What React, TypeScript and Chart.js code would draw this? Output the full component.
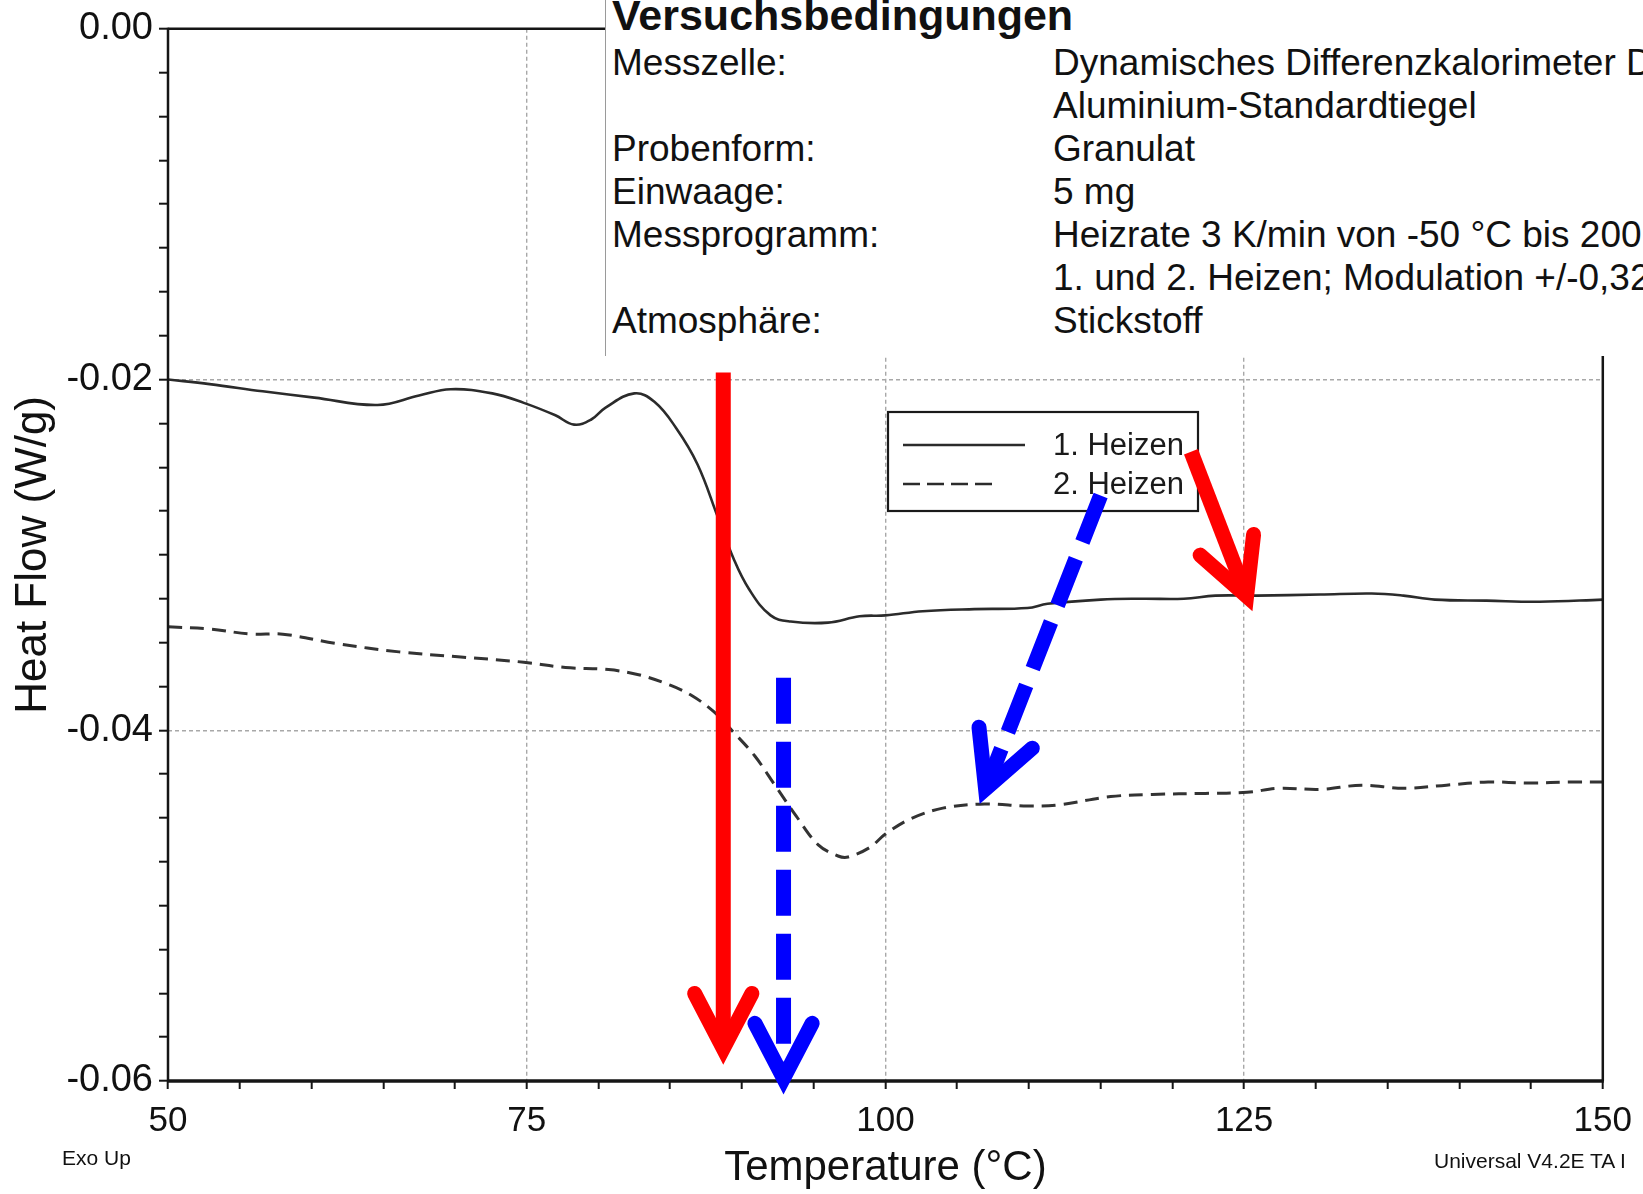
import React, { useEffect, useRef } from "react";
import { Chart, registerables } from "chart.js";

Chart.register(...registerables);

// ---------- data ----------
const heat1Temp = [50, 52.9, 56.6, 60.2, 64.6, 67.5, 69.7, 72.6, 74.8, 77.0, 78.3, 79.5, 80.5, 82.5, 83.9, 85.4, 86.9, 88.3, 89.4, 90.5, 92.0, 93.4, 96.0, 98.2, 100, 102.6, 106.2, 109.9, 111.3, 115.0, 117.9, 120.8, 123.0, 125.9, 130.3, 133.9, 136.1, 138.3, 141.9, 145.6, 150];
const heat1Flow = [-0.02, -0.02026, -0.02067, -0.02103, -0.02145, -0.02091, -0.02055, -0.02079, -0.02133, -0.02204, -0.02257, -0.02228, -0.0216, -0.02079, -0.02127, -0.02275, -0.02483, -0.0278, -0.03018, -0.03196, -0.03345, -0.0338, -0.03386, -0.0335, -0.03345, -0.03321, -0.03309, -0.03303, -0.03279, -0.03255, -0.0325, -0.0325, -0.03232, -0.03232, -0.03226, -0.0322, -0.03232, -0.03255, -0.03261, -0.03267, -0.03255];

const heat2Temp = [50, 52.9, 55.8, 58.0, 61.7, 66.1, 70.4, 74.8, 77.7, 80.7, 82.8, 85.0, 86.5, 88.0, 89.4, 90.9, 92.3, 93.8, 95.3, 96.7, 97.4, 98.9, 100, 101.8, 104.0, 106.9, 109.9, 112.0, 115.7, 118.6, 122.3, 125.2, 127.4, 130.3, 133.2, 136.1, 139.1, 142.0, 144.9, 147.8, 150];
const heat2Flow = [-0.0341, -0.03422, -0.03452, -0.03452, -0.03505, -0.03553, -0.03582, -0.03612, -0.03642, -0.03654, -0.03683, -0.03743, -0.03802, -0.03891, -0.0401, -0.04147, -0.04313, -0.04491, -0.04652, -0.04717, -0.04723, -0.04669, -0.04592, -0.04503, -0.04444, -0.0442, -0.04432, -0.04426, -0.04378, -0.04366, -0.0436, -0.04354, -0.04331, -0.04337, -0.04313, -0.04331, -0.04313, -0.04295, -0.04301, -0.04295, -0.04295];

const seriesLabels = ["1. Heizen", "2. Heizen"];
const xMajorTicks = [50, 75, 100, 125, 150];
const yMajorTicks = [0, -0.02, -0.04, -0.06];
const xTitle = "Temperature (°C)";
const yTitle = "Heat Flow (W/g)";

// annotation arrows (data coordinates: temperature, heat flow)
const arrowFromT = [88.7, 92.9, 115.0, 121.3];
const arrowFromF = [-0.0196, -0.037, -0.02661, -0.02412];
const arrowToT = [88.7, 92.9, 106.6, 125.55];
const arrowToF = [-0.059, -0.0607, -0.04414, -0.03315];

const conditionsTitle = "Versuchsbedingungen";
const conditionLabels = ["Messzelle:", "", "Probenform:", "Einwaage:", "Messprogramm:", "", "Atmosphäre:"];
const conditionValues = [
  "Dynamisches Differenzkalorimeter D",
  "Aluminium-Standardtiegel",
  "Granulat",
  "5 mg",
  "Heizrate 3 K/min von -50 °C bis 200",
  "1. und 2. Heizen; Modulation +/-0,32",
  "Stickstoff",
];
const footLeft = "Exo Up";
const footRight = "Universal V4.2E TA I";

// ---------- styles ----------
const FONT = '"Liberation Sans", Arial, Helvetica, sans-serif';
const ARROW_STYLES = [
  { color: "#ff0000", dash: [] as number[] },
  { color: "#0000ff", dash: [46, 18] },
  { color: "#0000ff", dash: [50, 18] },
  { color: "#ff0000", dash: [] as number[] },
];
const LINE_COLOR = "#2b2b2b";
const DASH2 = [14, 8];

const near = (v: number, list: number[]) => list.some((m) => Math.abs(m - v) < 1e-7);

const overlayPlugin = {
  id: "overlay",
  afterDatasetsDraw(chart: any) {
    const { ctx, chartArea } = chart;
    const { left, right, top, bottom } = chartArea;
    ctx.save();
    // frame
    ctx.strokeStyle = "#151515";
    ctx.lineWidth = 2.5;
    ctx.setLineDash([]);
    ctx.beginPath();
    ctx.moveTo(left, top);
    ctx.lineTo(right, top);
    ctx.lineTo(right, bottom);
    ctx.stroke();
    ctx.beginPath();
    ctx.moveTo(left, top - 1);
    ctx.lineTo(left, bottom);
    ctx.stroke();
    ctx.lineWidth = 3.5;
    ctx.beginPath();
    ctx.moveTo(left - 1, bottom);
    ctx.lineTo(right + 1, bottom);
    ctx.stroke();

    // legend
    const bx = 888, by = 412, bw = 310, bh = 99;
    ctx.fillStyle = "#fff";
    ctx.fillRect(bx, by, bw, bh);
    ctx.strokeStyle = "#1a1a1a";
    ctx.lineWidth = 2.2;
    ctx.strokeRect(bx, by, bw, bh);
    ctx.strokeStyle = LINE_COLOR;
    ctx.lineWidth = 2.6;
    ctx.beginPath();
    ctx.moveTo(903, 445);
    ctx.lineTo(1025, 445);
    ctx.stroke();
    ctx.setLineDash([17, 7]);
    ctx.beginPath();
    ctx.moveTo(903, 484);
    ctx.lineTo(995, 484);
    ctx.stroke();
    ctx.setLineDash([]);
    ctx.fillStyle = "#1a1a1a";
    ctx.font = `31px ${FONT}`;
    ctx.textBaseline = "middle";
    ctx.textAlign = "left";
    ctx.fillText(seriesLabels[0], 1053, 446);
    ctx.fillText(seriesLabels[1], 1053, 485);
    ctx.restore();
  },
  afterDraw(chart: any) {
    const { ctx } = chart;
    const xs = chart.scales.x;
    const ys = chart.scales.y;
    ctx.save();
    for (let i = 0; i < arrowFromT.length; i++) {
      const st = ARROW_STYLES[i];
      const x1 = xs.getPixelForValue(arrowFromT[i]);
      const y1 = ys.getPixelForValue(arrowFromF[i]);
      const x2 = xs.getPixelForValue(arrowToT[i]);
      const y2 = ys.getPixelForValue(arrowToF[i]);
      const ang = Math.atan2(y2 - y1, x2 - x1);
      const c = Math.cos(ang), s = Math.sin(ang);
      const w = 15;
      const vx = x2 - c * 15, vy = y2 - s * 15;
      ctx.strokeStyle = st.color;
      ctx.lineWidth = w;
      ctx.lineCap = "butt";
      ctx.setLineDash(st.dash);
      ctx.beginPath();
      ctx.moveTo(x1, y1);
      ctx.lineTo(vx - c * 6, vy - s * 6);
      ctx.stroke();
      ctx.setLineDash([]);
      ctx.lineCap = "round";
      ctx.lineJoin = "miter";
      ctx.miterLimit = 10;
      const L = 62, a = 0.48;
      ctx.beginPath();
      ctx.moveTo(vx - L * Math.cos(ang - a), vy - L * Math.sin(ang - a));
      ctx.lineTo(vx, vy);
      ctx.lineTo(vx - L * Math.cos(ang + a), vy - L * Math.sin(ang + a));
      ctx.stroke();
    }
    ctx.restore();
  },
};

export default function App() {
  const canvasRef = useRef<HTMLCanvasElement>(null);

  useEffect(() => {
    const canvas = canvasRef.current;
    if (!canvas) return;
    Chart.defaults.font.family = FONT;
    const chart = new Chart(canvas, {
      type: "line",
      data: {
        datasets: [
          {
            label: seriesLabels[0],
            data: heat1Temp.map((t, i) => ({ x: t, y: heat1Flow[i] })),
            borderColor: LINE_COLOR,
            borderWidth: 2.6,
            pointRadius: 0,
            tension: 0.4,
            fill: false,
          },
          {
            label: seriesLabels[1],
            data: heat2Temp.map((t, i) => ({ x: t, y: heat2Flow[i] })),
            borderColor: "#333",
            borderWidth: 3,
            borderDash: DASH2,
            pointRadius: 0,
            tension: 0.35,
            fill: false,
          },
        ],
      },
      options: {
        animation: false,
        responsive: false,
        devicePixelRatio: 1,
        layout: { padding: { top: 23, right: 40, left: 0, bottom: 0 } },
        plugins: {
          legend: { display: false },
          tooltip: { enabled: false },
        },
        scales: {
          x: {
            type: "linear",
            min: 50,
            max: 150,
            afterFit: (s: any) => {
              s.height = 113;
            },
            ticks: {
              stepSize: 5,
              autoSkip: false,
              maxRotation: 0,
              padding: 11,
              color: "#111",
              font: { size: 35, family: FONT },
              callback: (v: any) => (near(Number(v), xMajorTicks) ? String(v) : ""),
            },
            grid: {
              drawOnChartArea: true,
              tickLength: 8,
              lineWidth: 1.4,
              tickWidth: 2,
              tickColor: "#151515",
              color: (c: any) =>
                c.tick && near(c.tick.value, xMajorTicks) && c.tick.value > 50 && c.tick.value < 150
                  ? "#a8a8a8"
                  : "rgba(0,0,0,0)",
            },
            border: { display: false, dash: [4, 3] },
            title: {
              display: true,
              text: xTitle,
              color: "#111",
              font: { size: 42, family: FONT },
              padding: { top: 0, bottom: 0 },
            },
          },
          y: {
            type: "linear",
            min: -0.06,
            max: 0,
            afterFit: (s: any) => {
              s.width = 168;
            },
            ticks: {
              stepSize: 0.0025,
              autoSkip: false,
              padding: 6,
              color: "#111",
              font: { size: 38, family: FONT },
              callback: (v: any) => (near(Number(v), yMajorTicks) ? Number(v).toFixed(2).replace("-0.00", "0.00") : ""),
            },
            grid: {
              drawOnChartArea: true,
              tickLength: 9,
              lineWidth: 1.4,
              tickWidth: 2,
              tickColor: "#151515",
              color: (c: any) =>
                c.tick && near(c.tick.value, yMajorTicks) && c.tick.value < -0.001 && c.tick.value > -0.059
                  ? "#a8a8a8"
                  : "rgba(0,0,0,0)",
            },
            border: { display: false, dash: [4, 3] },
            title: {
              display: true,
              text: yTitle,
              color: "#111",
              font: { size: 44, family: FONT },
              padding: { top: 7, bottom: 0 },
            },
          },
        },
      },
      plugins: [overlayPlugin],
    } as any);
    return () => chart.destroy();
  }, []);

  const rowTop = (i: number) => 41 + 43 * i;

  return (
    <div
      style={{
        position: "absolute",
        left: 0,
        top: 0,
        width: 1643,
        height: 1194,
        overflow: "hidden",
        background: "#fff",
        fontFamily: FONT,
        color: "#111",
      }}
    >
      <canvas
        ref={canvasRef}
        width={1643}
        height={1194}
        style={{ position: "absolute", left: 0, top: 0, width: 1643, height: 1194 }}
      />
      <div
        style={{
          position: "absolute",
          left: 605,
          top: 0,
          width: 1643 - 605,
          height: 356,
          background: "#fff",
          borderLeft: "1.5px solid #9a9a9a",
          overflow: "hidden",
          whiteSpace: "nowrap",
        }}
      >
        <div
          style={{
            position: "absolute",
            left: 6,
            top: -6,
            fontSize: 43,
            lineHeight: "43px",
            fontWeight: "bold",
          }}
        >
          {conditionsTitle}
        </div>
        {conditionLabels.map((lab, i) => (
          <React.Fragment key={i}>
            {lab ? (
              <div style={{ position: "absolute", left: 6, top: rowTop(i), fontSize: 37, lineHeight: "43px" }}>{lab}</div>
            ) : null}
            <div style={{ position: "absolute", left: 447, top: rowTop(i), fontSize: 37, lineHeight: "43px" }}>
              {conditionValues[i]}
            </div>
          </React.Fragment>
        ))}
      </div>
      <div style={{ position: "absolute", left: 62, top: 1146, fontSize: 21, lineHeight: "24px", whiteSpace: "nowrap" }}>
        {footLeft}
      </div>
      <div style={{ position: "absolute", left: 1434, top: 1149, fontSize: 21, lineHeight: "24px", whiteSpace: "nowrap" }}>
        {footRight}
      </div>
    </div>
  );
}
